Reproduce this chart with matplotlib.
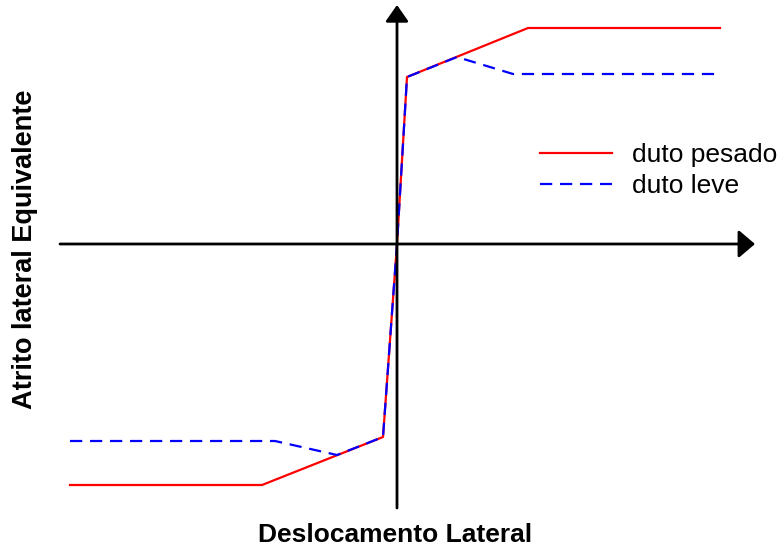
import matplotlib
matplotlib.use("Agg")
import matplotlib.pyplot as plt

# Data (arbitrary units; origin at axis crossing)
x_pesado = [-32.7, -13.5, -1.4, 0.0, 1.0, 13.1, 32.3]
y_pesado = [-24.1, -24.1, -19.3, 0.0, 16.7, 21.6, 21.6]
x_leve = [-32.7, -12.2, -6.0, -1.4, 0.0, 1.0, 6.0, 11.6, 32.3]
y_leve = [-19.7, -19.7, -21.1, -19.3, 0.0, 16.7, 18.7, 17.0, 17.0]
labels = ["duto pesado", "duto leve"]
xlabel = "Deslocamento Lateral"
ylabel = "Atrito lateral Equivalente"

plt.rcParams['font.family'] = ['Liberation Sans', 'DejaVu Sans']
fig = plt.figure(figsize=(7.8, 5.49), dpi=100)
ax = fig.add_axes([0, 0, 1, 1])
ax.set_xlim(-39.7, 38.3)
ax.set_ylim(-30.5, 24.4)
ax.axis('off')

# axes with arrows
ax.annotate('', xy=(35.8, 0), xytext=(-33.7, 0),
            arrowprops=dict(arrowstyle='-|>,head_length=1.0,head_width=0.85',
                            color='black', lw=2, shrinkA=0, shrinkB=0))
ax.annotate('', xy=(0, 23.9), xytext=(0, -26.4),
            arrowprops=dict(arrowstyle='-|>,head_length=1.0,head_width=0.7',
                            color='black', lw=2, shrinkA=0, shrinkB=0))

ax.plot(x_pesado, y_pesado, color='#ff0000', lw=1.6, label=labels[0])
ax.plot(x_leve, y_leve, color='#0000ff', lw=1.6, dashes=(5.5, 3.5), label=labels[1])

leg = ax.legend(loc='upper left', bbox_to_anchor=(540/780, 1 - 143/549),
                frameon=False, fontsize=19, handlelength=2.73, handletextpad=0.76,
                labelspacing=0.27, borderaxespad=0, borderpad=0)

fig.text(395/780, 1 - 535/549, xlabel, ha='center', va='center',
         fontsize=19, fontweight='bold')
fig.text(25/780, 1 - 249/549, ylabel, ha='center', va='center',
         fontsize=19.5, fontweight='bold', rotation=90)

fig.savefig('out.png', dpi=100)
